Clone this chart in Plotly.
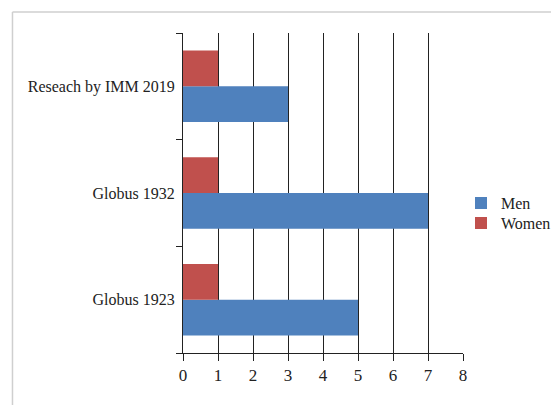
import plotly.graph_objects as go

categories = ["Globus 1923", "Globus 1932", "Reseach by IMM 2019"]
men = [5, 7, 3]
women = [1, 1, 1]
x_ticks = [0, 1, 2, 3, 4, 5, 6, 7, 8]

FONT = "Liberation Serif"

fig = go.Figure()
fig.add_trace(go.Bar(y=categories, x=men, orientation="h", name="Men",
                     marker=dict(color="#4F81BD", line=dict(width=0)), legend="legend"))
fig.add_trace(go.Bar(y=categories, x=women, orientation="h", name="Women",
                     marker=dict(color="#C0504D", line=dict(width=0)), legend="legend2"))

W, H = 551, 405
L, R, T, B = 182.7, 88, 33, 52.3
pw, ph = W - L - R, H - T - B

def px2x(px):
    return (px - L) / pw

def px2y(py):
    return 1 - (py - T) / ph

leg_common = dict(xanchor="left", yanchor="middle", traceorder="normal",
                  font=dict(family=FONT, size=16, color="#222"),
                  itemwidth=30, tracegroupgap=0, bgcolor="rgba(0,0,0,0)")

fig.update_layout(
    width=W, height=H,
    margin=dict(l=L, r=R, t=T, b=B, autoexpand=False),
    paper_bgcolor="white", plot_bgcolor="white",
    barmode="group", bargap=0.33, bargroupgap=0,
    font=dict(family=FONT, size=16, color="#222"),
    showlegend=True,
    legend=dict(x=px2x(461), y=px2y(203), **leg_common),
    legend2=dict(x=px2x(461), y=px2y(223), **leg_common),
    xaxis=dict(range=[0, 8], tickvals=x_ticks, ticktext=[str(v) for v in x_ticks],
               showgrid=True, gridcolor="#222", gridwidth=1,
               showline=True, linecolor="#222", linewidth=1,
               ticks="outside", ticklen=7, tickcolor="#222",
               zeroline=False, tickfont=dict(family=FONT, size=17, color="#222")),
    yaxis=dict(type="category", categoryorder="array", categoryarray=categories,
               showline=True, linecolor="#222", linewidth=1,
               ticks="outside", ticklen=6, tickcolor="#222", tickson="boundaries",
               showgrid=False, ticksuffix=" ",
               tickfont=dict(family=FONT, size=16, color="#222")),
    shapes=[
        dict(type="line", xref="paper", yref="paper",
             x0=px2x(12), x1=px2x(560), y0=px2y(12), y1=px2y(12),
             line=dict(color="#cfcfcf", width=1.5)),
        dict(type="line", xref="paper", yref="paper",
             x0=px2x(12), x1=px2x(12), y0=px2y(12), y1=px2y(415),
             line=dict(color="#cfcfcf", width=1.5)),
    ],
)

fig.write_html("out.html")
